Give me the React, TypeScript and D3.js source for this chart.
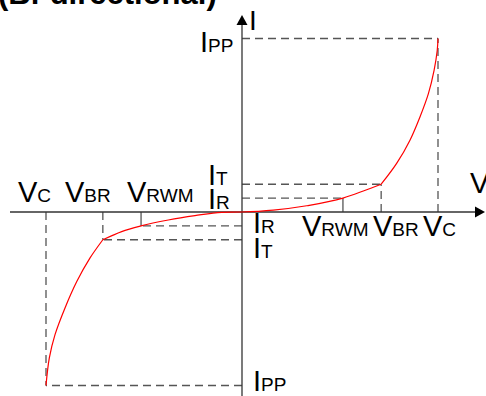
import React from 'react';
import * as d3 from 'd3';

// reverse-breakdown points: names and values (arbitrary units, VC = 10, IPP = 10)
const voltageNames = ['RWM', 'BR', 'C'];
const voltageValues = [5.15, 7.1, 10];
const currentNames = ['R', 'T', 'PP'];
const currentValues = [0.8, 1.6, 10];

// I-V curve
const curveV = [-10, -9.83, -9.54, -9.03, -8.43, -7.76, -7.1, -6.14, -5.15, -3.76, -2.4, -1.04, 0, 1.6, 3.3, 5.15, 6.19, 7.1, 7.89, 8.57, 9.08, 9.51, 9.8, 9.96, 10];
const curveI = [-10, -8.41, -7.07, -5.53, -4.01, -2.66, -1.6, -1.13, -0.8, -0.46, -0.21, -0.02, 0, 0.11, 0.36, 0.8, 1.21, 1.6, 2.8, 4.14, 5.48, 6.82, 8.16, 9.31, 10];

const title = '(Bi-directional)';

const W = 486;
const H = 396;
const FONT = '"Liberation Sans", Arial, sans-serif';

const x = d3.scaleLinear().domain([-10, 10]).range([46, 438]);
const y = d3.scaleLinear().domain([-10, 10]).range([385.5, 38.5]);

const Label = ({ main, sub, px, py }: { main: string; sub: string; px: number; py: number }) => (
  <text x={px} y={py} fontFamily={FONT} fill="#000">
    <tspan fontSize={29}>{main}</tspan>
    <tspan fontSize={19}>{sub}</tspan>
  </text>
);

export default function App() {
  const pts: [number, number][] = curveV.map((v, i) => [v, curveI[i]]);
  const brk = voltageValues[1];
  const iL = curveV.indexOf(-brk);
  const iR = curveV.indexOf(brk);

  const outer = d3.line<[number, number]>().x(d => x(d[0])).y(d => y(d[1])).curve(d3.curveCatmullRom);
  const middle = d3.line<[number, number]>().x(d => x(d[0])).y(d => y(d[1])).curve(d3.curveMonotoneX);

  const x0 = x(0);
  const y0 = y(0);
  const dash = '8,5';
  const grey = '#555';

  const guides: React.ReactNode[] = [];
  [1, -1].forEach(s => {
    voltageValues.forEach((v, k) => {
      const px = x(s * v);
      const py = y(s * currentValues[k]);
      guides.push(
        <line key={`h${s}${k}`} x1={x0} x2={px} y1={py} y2={py} stroke={grey} strokeWidth={1.3} strokeDasharray={dash} />,
        <line key={`v${s}${k}`} x1={px} x2={px} y1={y0} y2={py} stroke={grey} strokeWidth={1.3}
          strokeDasharray={k === 0 ? undefined : dash} />
      );
    });
  });

  // axis extents
  const axL = 10, axR = 485, axT = 15, axB = H;

  return (
    <svg width={W} height={H} style={{ position: 'absolute', left: 0, top: 0, background: '#fff' }}>
      <text x={-2} y={4} fontFamily={FONT} fontWeight="bold" fontSize={31}>{title}</text>

      {guides}

      {/* axes */}
      <line x1={axL} x2={axR - 9} y1={y0} y2={y0} stroke="#333" strokeWidth={1.3} />
      <line x1={x0} x2={x0} y1={axB} y2={axT + 9} stroke="#333" strokeWidth={1.3} />
      <path d={`M${axR},${y0} L${axR - 10},${y0 - 5.5} L${axR - 10},${y0 + 5.5} Z`} fill="#000" />
      <path d={`M${x0},${axT} L${x0 - 5.5},${axT + 10} L${x0 + 5.5},${axT + 10} Z`} fill="#000" />

      {/* curve */}
      <g fill="none" stroke="#ff0000" strokeWidth={1.2}>
        <path d={outer(pts.slice(0, iL + 1)) || ''} />
        <path d={middle(pts.slice(iL, iR + 1)) || ''} />
        <path d={outer(pts.slice(iR)) || ''} />
      </g>

      {/* axis names */}
      <text x={470} y={193} fontFamily={FONT} fontSize={29}>V</text>
      <text x={249} y={30} fontFamily={FONT} fontSize={28}>I</text>

      {/* current labels */}
      <Label main="I" sub={currentNames[2]} px={200} py={52} />
      <Label main="I" sub={currentNames[1]} px={208} py={185} />
      <Label main="I" sub={currentNames[0]} px={208} py={209} />
      <Label main="I" sub={currentNames[0]} px={253} py={233} />
      <Label main="I" sub={currentNames[1]} px={253} py={258} />
      <Label main="I" sub={currentNames[2]} px={253} py={391} />

      {/* voltage labels */}
      <Label main="V" sub={voltageNames[2]} px={18} py={202} />
      <Label main="V" sub={voltageNames[1]} px={65} py={202} />
      <Label main="V" sub={voltageNames[0]} px={127} py={202} />
      <Label main="V" sub={voltageNames[0]} px={302} py={236} />
      <Label main="V" sub={voltageNames[1]} px={373} py={236} />
      <Label main="V" sub={voltageNames[2]} px={423} py={236} />
    </svg>
  );
}
